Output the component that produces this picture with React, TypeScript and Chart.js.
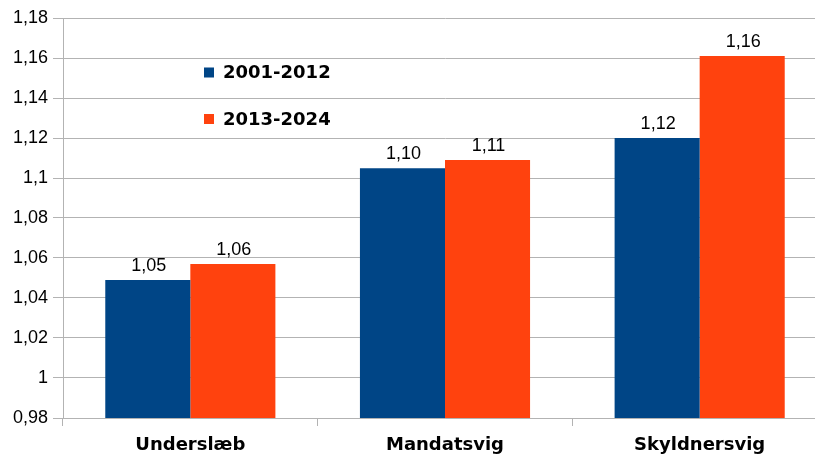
import React, { useEffect, useRef } from "react";
import { Chart, registerables } from "chart.js";

Chart.register(...registerables);

const categories = ["Underslæb", "Mandatsvig", "Skyldnersvig"];
const seriesNames = ["2001-2012", "2013-2024"];
const values2001 = [1.049, 1.1049, 1.12];
const values2013 = [1.057, 1.109, 1.161];
const colors = ["#004586", "#ff420e"];
const yMin = 0.98;
const yMax = 1.18;
const yStep = 0.02;

const fmt = (v: number) => Number(v.toFixed(2)).toString().replace(".", ",");

const dataLabelPlugin = {
  id: "dataLabels",
  afterDatasetsDraw(chart: any) {
    const ctx = chart.ctx;
    ctx.save();
    ctx.font = "18px 'Liberation Sans', Arial, sans-serif";
    ctx.fillStyle = "#000";
    ctx.textAlign = "center";
    ctx.textBaseline = "alphabetic";
    chart.data.datasets.forEach((ds: any, i: number) => {
      const meta = chart.getDatasetMeta(i);
      meta.data.forEach((el: any, j: number) => {
        ctx.fillText(Number(ds.data[j]).toFixed(2).replace(".", ","), el.x + 1, el.y - 9);
      });
    });
    ctx.restore();
  },
};

const legendPlugin = {
  id: "insideLegend",
  afterDraw(chart: any) {
    const ctx = chart.ctx;
    const left = chart.chartArea.left;
    const top = chart.chartArea.top;
    ctx.save();
    ctx.font = "bold 18px 'DejaVu Sans', sans-serif";
    ctx.textAlign = "left";
    ctx.textBaseline = "middle";
    chart.data.datasets.forEach((ds: any, i: number) => {
      const cy = top + 54.5 + i * 46.5;
      ctx.fillStyle = ds.backgroundColor;
      ctx.fillRect(left + 141, cy - 5, 10, 10);
      ctx.fillStyle = "#000";
      ctx.fillText(ds.label, left + 160, cy + 1);
    });
    ctx.restore();
  },
};

export default function App() {
  const ref = useRef<HTMLCanvasElement>(null);
  useEffect(() => {
    if (!ref.current) return;
    const chart = new Chart(ref.current, {
      type: "bar",
      data: {
        labels: categories,
        datasets: [
          { label: seriesNames[0], data: values2001, backgroundColor: colors[0] },
          { label: seriesNames[1], data: values2013, backgroundColor: colors[1] },
        ],
      },
      options: {
        responsive: false,
        animation: false,
        layout: { padding: { left: 0, right: 3, top: 18, bottom: 0 } },
        datasets: {
          bar: { categoryPercentage: 0.668, barPercentage: 1.0, borderWidth: 0 },
        } as any,
        plugins: {
          legend: { display: false },
          tooltip: { enabled: false },
        },
        scales: {
          x: {
            offset: true,
            grid: {
              offset: true,
              drawOnChartArea: false,
              drawTicks: true,
              tickLength: 8,
              color: "#b3b3b3",
            },
            border: { color: "#b3b3b3", width: 1 },
            ticks: {
              color: "#000",
              padding: 9,
              font: { family: "'DejaVu Sans', sans-serif", size: 18, weight: "bold" },
            },
            afterFit: (s: any) => {
              s.height = 40;
            },
          },
          y: {
            min: yMin,
            max: yMax,
            grid: { color: "#b3b3b3", tickLength: 10, drawTicks: true },
            border: { color: "#b3b3b3", width: 1 },
            ticks: {
              stepSize: yStep,
              color: "#000",
              padding: 5,
              font: { family: "'Liberation Sans', Arial, sans-serif", size: 18 },
              callback: (v: any) => fmt(Number(v)),
            },
            afterFit: (s: any) => {
              s.width = 63;
            },
          },
        },
      },
      plugins: [dataLabelPlugin, legendPlugin],
    });
    return () => chart.destroy();
  }, []);
  return (
    <div
      style={{
        position: "absolute",
        left: 0,
        top: 0,
        width: 815,
        height: 458,
        overflow: "hidden",
        background: "#fff",
      }}
    >
      <canvas ref={ref} width={830} height={458} style={{ display: "block" }} />
    </div>
  );
}
